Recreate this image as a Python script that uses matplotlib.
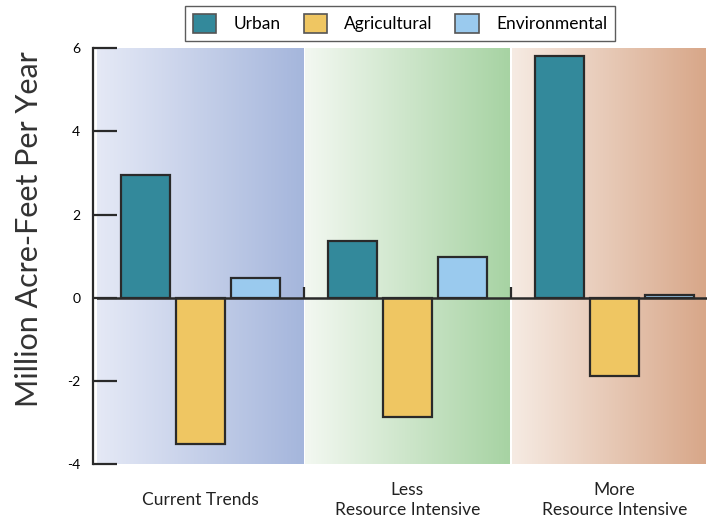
import numpy as np
import matplotlib.pyplot as plt
from matplotlib.colors import to_rgb
from matplotlib.patches import Patch
from matplotlib.transforms import blended_transform_factory

plt.rcParams['font.family'] = ['Lato', 'DejaVu Sans']

# data
scenarios = ['Current Trends', 'Less\nResource Intensive', 'More\nResource Intensive']
series = ['Urban', 'Agricultural', 'Environmental']
urban = [2.95, 1.37, 5.8]
agricultural = [-3.5, -2.85, -1.88]
environmental = [0.48, 0.99, 0.08]
yticks = [-4, -2, 0, 2, 4, 6]

colors = ['#33899b', '#efc662', '#9acaee']
bg_pairs = [('#e5e9f6', '#a5b6dc'), ('#f3f8f1', '#a7d3a3'), ('#f6ebe3', '#d8a789')]
edge = '#2a2a2a'

fig = plt.figure(figsize=(7.07, 5.23), dpi=100)
ax = fig.add_axes([0.137, 0.112, 0.863, 0.796])

x = np.arange(len(scenarios))
xmax = 2.447
ax.set_xlim(-0.5, xmax)
ax.set_ylim(-4, 6)

# gradient backgrounds per scenario
for i, (c0, c1) in enumerate(bg_pairs):
    c0, c1 = np.array(to_rgb(c0)), np.array(to_rgb(c1))
    t = np.linspace(0, 1, 256)[:, None]
    grad = (c0 + (c1 - c0) * t)[None, :, :]
    left = i - 0.5 + (0.005 if i else 0)
    right = min(i + 0.5, xmax) - 0.005
    ax.imshow(grad, extent=[left, right, -4, 6], aspect='auto', zorder=0)

w = 0.238
off = 0.265
for vals, dx, col, name in zip([urban, agricultural, environmental], [-off, 0, off], colors, series):
    ax.bar(x + dx, vals, width=w, color=col, edgecolor=edge, linewidth=1.6, zorder=3, label=name)

ax.axhline(0, color=edge, linewidth=1.8, zorder=4)
ax.vlines([0.5, 1.5], 0, 0.25, color=edge, linewidth=1.6, zorder=4)

ax.set_xticks([])
ax.set_yticks(yticks)
ax.set_yticklabels([str(v) for v in yticks], fontsize=13.5, color='#333333')
ax.tick_params(axis='y', direction='in', length=17, width=1.6, color=edge, pad=9)
for s in ['top', 'right', 'bottom']:
    ax.spines[s].set_visible(False)
ax.spines['left'].set_color(edge)
ax.spines['left'].set_linewidth(1.6)
ax.spines['left'].set_position(('outward', 3))

ax.set_ylabel('Million Acre-Feet Per Year', fontsize=22, color='#333333')
ax.yaxis.set_label_coords(-0.088, 0.565)

tr = blended_transform_factory(ax.transData, ax.transAxes)
for xi, lab in zip(x, scenarios):
    ax.text(xi, -0.085, lab, transform=tr, ha='center', va='center', fontsize=12.5,
            color='#222222', linespacing=1.3)

handles = [Patch(facecolor=c, edgecolor='#555555', linewidth=1.2) for c in colors]
fig.legend(handles, series, loc='upper center', bbox_to_anchor=(0.566, 1.0), ncol=3,
           frameon=True, fancybox=False, edgecolor='#333333', fontsize=12.5,
           handlelength=1.35, handleheight=1.35, columnspacing=1.3, handletextpad=1.0,
           borderpad=0.45, borderaxespad=0.35)

fig.savefig('out.png', dpi=100)
